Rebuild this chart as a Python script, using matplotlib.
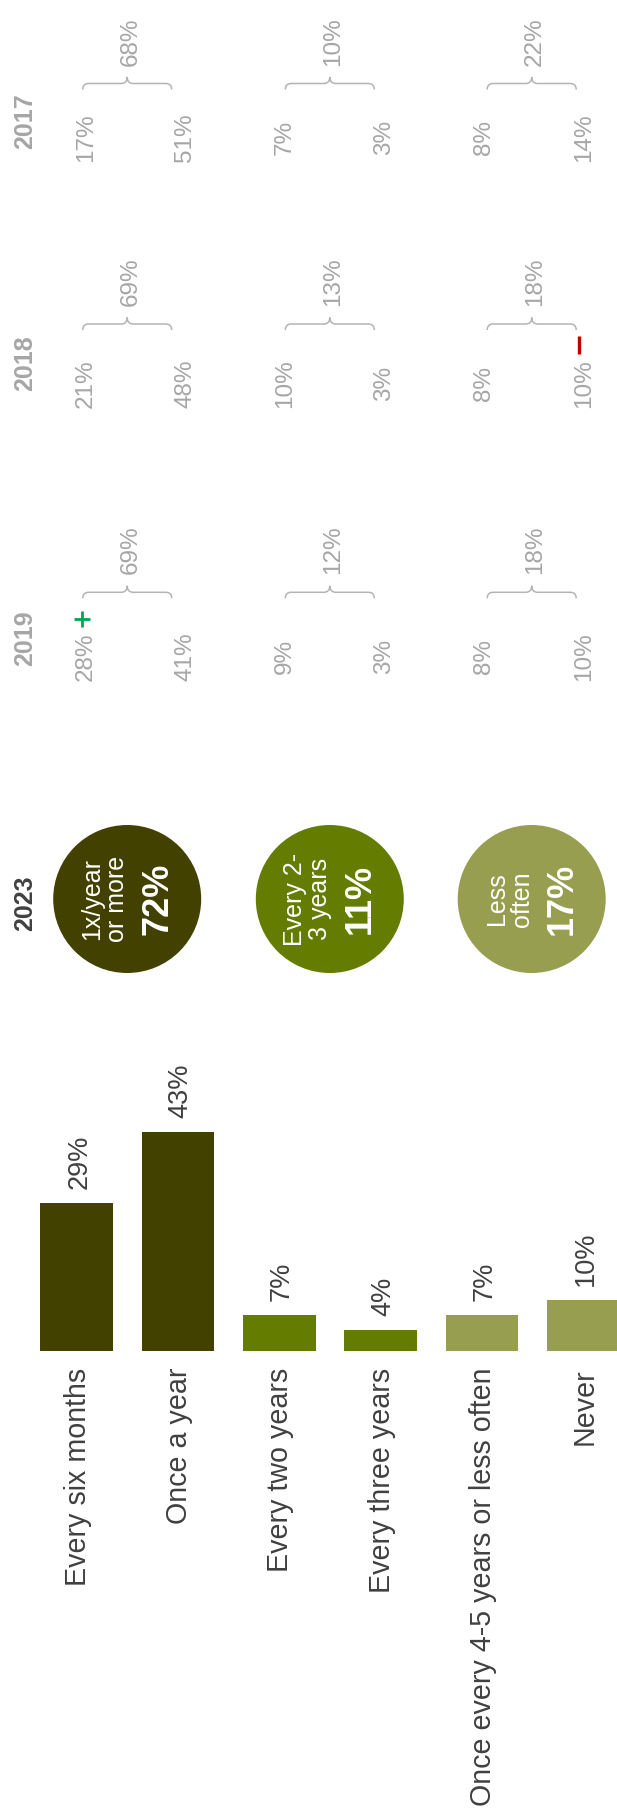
import matplotlib
matplotlib.use("Agg")
import matplotlib.pyplot as plt  # noqa: E402
from matplotlib.patches import Circle, PathPatch  # noqa: E402
from matplotlib.path import Path  # noqa: E402

plt.rcParams["font.family"] = ["Liberation Sans", "DejaVu Sans"]

# --- dados ---
categorias = ["Every six months", "Once a year", "Every two years",
              "Every three years", "Once every 4-5 years or less often", "Never"]
valores_2023 = [29, 43, 7, 4, 7, 10]
grupo_da_barra = [0, 0, 1, 1, 2, 2]

grupos = ["1x/year\nor more", "Every 2-\n3 years", "Less\noften"]
totais_2023 = [72, 11, 17]

anos = ["2017", "2018", "2019"]
valores_2017 = [17, 51, 7, 3, 8, 14]
valores_2018 = [21, 48, 10, 3, 8, 10]
valores_2019 = [28, 41, 9, 3, 8, 10]
totais_2017 = [68, 10, 22]
totais_2018 = [69, 13, 18]
totais_2019 = [69, 12, 18]

# variações significativas: (ano, categoria, sinal)
sinais = [("2019", 0, "+"), ("2018", 5, "-")]

# --- cores / layout (pixels da imagem 617x1814) ---
W, H = 617, 1814
CORES = ["#434100", "#647c00", "#979e50"]
COR_TEXTO = "#404040"
COR_CINZA = "#a6a6a6"
COR_CHAVE = "#b4b4b4"

CX = [127.2, 329.8, 531.7]          # centros dos círculos / chaves
CY, R = 899, 74
COL_X = [83, 182.5, 282, 381, 481, 581]   # colunas dos números históricos
# por ano: centro do rótulo do ano, centro dos números, linha da chave, rótulo do total
BLOCOS = {"2017": (121.3, 137.5, 83.5, 41.7),
          "2018": (363.3, 383.8, 324.0, 282.0),
          "2019": (638.3, 656.3, 592.3, 550.0)}

BASE_Y = 1350.7     # linha de base das barras
PX_POR_PCT = 5.08
BAR_X0, BAR_DX, BAR_W = 76.7, 101.3, 72.7


def rtexto(ax, x_base, y, s, size, color, ha="center", weight="normal"):
    """Texto girado 90 graus; x_base = posição da linha de base."""
    return ax.text(x_base, y, s, rotation=90, rotation_mode="anchor",
                   ha=ha, va="baseline", fontsize=size, color=color,
                   fontweight=weight)


def chave(ax, xc, y, meia=44.5):
    x0, x1 = xc - meia, xc + meia
    verts = [(x0, y + 6), (x0, y), (x0 + 6, y),
             (xc - 6, y), (xc, y), (xc, y - 6.5),
             (xc, y), (xc + 6, y),
             (x1 - 6, y), (x1, y), (x1, y + 6)]
    codes = [Path.MOVETO, Path.CURVE3, Path.CURVE3,
             Path.LINETO, Path.CURVE3, Path.CURVE3,
             Path.CURVE3, Path.CURVE3,
             Path.LINETO, Path.CURVE3, Path.CURVE3]
    ax.add_patch(PathPatch(Path(verts, codes), facecolor="none",
                           edgecolor=COR_CHAVE, linewidth=1.1))


fig = plt.figure(figsize=(W / 100, H / 100), dpi=100)
fig.patch.set_facecolor("white")

# eixo em coordenadas de pixel para textos, chaves e círculos
ax = fig.add_axes([0, 0, 1, 1])
ax.set_xlim(0, W)
ax.set_ylim(H, 0)
ax.axis("off")

# --- histórico 2017-2019 ---
hist = {"2017": (valores_2017, totais_2017),
        "2018": (valores_2018, totais_2018),
        "2019": (valores_2019, totais_2019)}
for ano in anos:
    y_ano, y_num, y_chave, y_tot = BLOCOS[ano]
    vals, tots = hist[ano]
    rtexto(ax, 32.3, y_ano, ano, 18, COR_CINZA, weight="bold")
    for x, v in zip(COL_X, vals):
        rtexto(ax, x + 9, y_num, f"{v}%", 17.5, COR_CINZA)
    for g, t in enumerate(tots):
        chave(ax, CX[g], y_chave)
        rtexto(ax, CX[g] + 9.3, y_tot, f"{t}%", 17.5, COR_CINZA)

for ano, cat, s in sinais:
    y_num = BLOCOS[ano][1]
    if s == "+":
        ax.plot([COL_X[cat] - 1.3], [y_num - 37.6], marker="+", ms=11,
                mew=2.0, color="#00a651", linestyle="none")
    else:
        ax.plot([COL_X[cat] - 1.7], [y_num - 38.5], marker="|", ms=12.5,
                mew=2.4, color="#c00000", linestyle="none")

# --- 2023: círculos ---
rtexto(ax, 32.3, 903.3, "2023", 18, COR_TEXTO, weight="bold")
for g, (rot, tot) in enumerate(zip(grupos, totais_2023)):
    ax.add_patch(Circle((CX[g], CY), R, facecolor=CORES[g], edgecolor="none"))
    l1, l2 = rot.split("\n")
    rtexto(ax, CX[g] - 28, CY, l1, 18, "white")
    rtexto(ax, CX[g] - 3, CY, l2, 18, "white")
    rtexto(ax, CX[g] + 40, CY, f"{tot}%", 26, "white", weight="bold")

# --- 2023: barras ---
topo_px = 1050
axb = fig.add_axes([0, 1 - BASE_Y / H, 1, (BASE_Y - topo_px) / H])
axb.set_xlim(-BAR_X0 / BAR_DX, (W - BAR_X0) / BAR_DX)
axb.set_ylim(0, (BASE_Y - topo_px) / PX_POR_PCT)
axb.axis("off")
axb.patch.set_alpha(0)

xs = list(range(len(categorias)))
axb.bar(xs, valores_2023, width=BAR_W / BAR_DX,
        color=[CORES[g] for g in grupo_da_barra], clip_on=True)

for i, (cat, v) in enumerate(zip(categorias, valores_2023)):
    axb.annotate(f"{v}%", (i, v), xytext=(9.5 * 0.72, 14 * 0.72),
                 textcoords="offset points", rotation=90,
                 rotation_mode="anchor", ha="left", va="baseline",
                 fontsize=19.5, color=COR_TEXTO, annotation_clip=False)
    axb.annotate(cat, (i, 0), xytext=(9 * 0.72, -17.3 * 0.72),
                 textcoords="offset points", rotation=90,
                 rotation_mode="anchor", ha="right", va="baseline",
                 fontsize=20.6, color=COR_TEXTO, annotation_clip=False)

fig.savefig("out.png", dpi=100, facecolor="white")
plt.close(fig)
